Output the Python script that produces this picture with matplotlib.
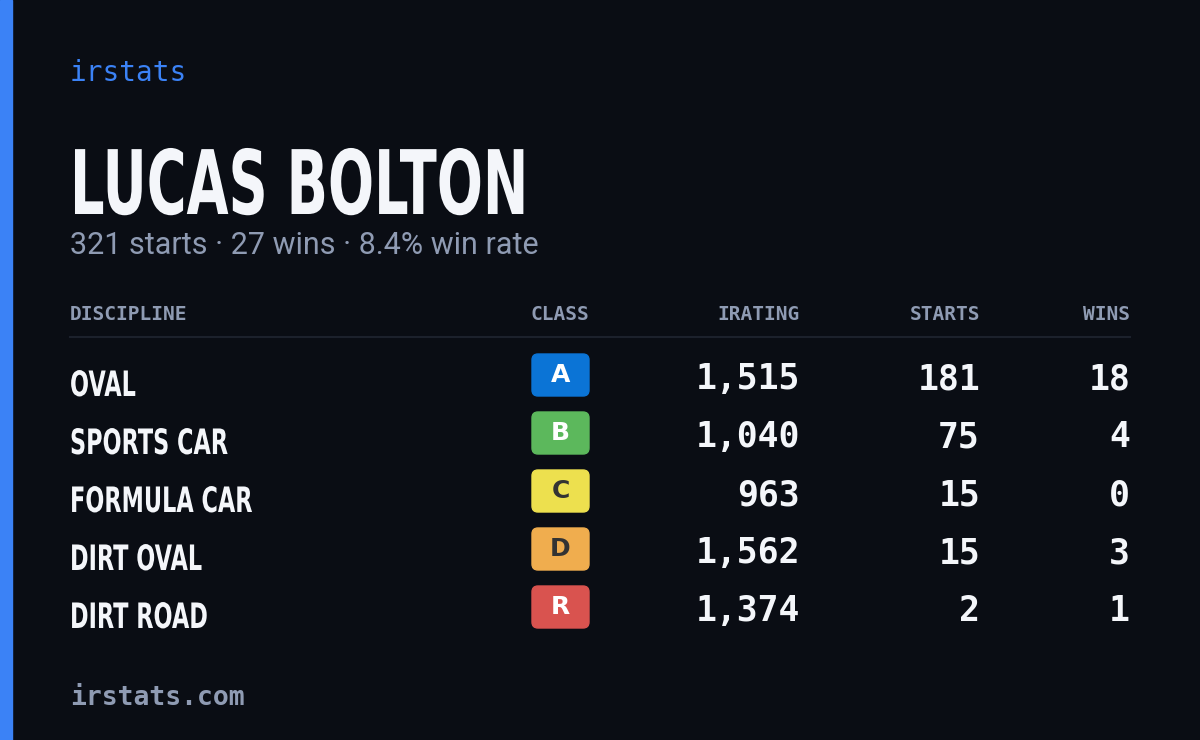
import matplotlib
matplotlib.use("Agg")
import matplotlib.pyplot as plt
from matplotlib.patches import FancyBboxPatch, Rectangle, PathPatch
from matplotlib.textpath import TextPath
from matplotlib.font_manager import FontProperties
from matplotlib.transforms import Affine2D

# data
player = "LUCAS BOLTON"
total_starts = 321
total_wins = 27
win_rate = 8.4
disciplines = ["OVAL", "SPORTS CAR", "FORMULA CAR", "DIRT OVAL", "DIRT ROAD"]
classes = ["A", "B", "C", "D", "R"]
class_colors = ["#0b74d6", "#5cb85c", "#ede04e", "#f0ad4e", "#d9534f"]
class_text = ["white", "white", "#333333", "#333333", "white"]
iratings = [1515, 1040, 963, 1562, 1374]
starts = [181, 75, 15, 15, 2]
wins = [18, 4, 0, 3, 1]

BG = "#0a0d14"
MUTED = "#8f9bb3"
WHITE = "#f4f6fa"
MONO = ["DejaVu Sans Mono"]
BOLD = FontProperties(family="DejaVu Sans", weight="bold")


def narrow_text(ax, x, y, s, size, sx, color):
    # condensed text: squeeze a text path horizontally, baseline at y
    tp = TextPath((0, 0), s, size=size, prop=BOLD)
    tr = Affine2D().scale(sx, -1).translate(x, y)
    ax.add_patch(PathPatch(tr.transform_path(tp), color=color, lw=0))


fig = plt.figure(figsize=(12, 7.4), dpi=100, facecolor=BG)
ax = fig.add_axes([0, 0, 1, 1])
ax.set_xlim(0, 1200)
ax.set_ylim(740, 0)
ax.axis("off")

ax.add_patch(Rectangle((0, 0), 12, 740, color="#3b82f6"))

ax.text(70, 73, "irstats", color="#3b82f6", fontsize=20, family=MONO, va="center")
narrow_text(ax, 70, 214, player, 89, 0.61, WHITE)
ax.text(70, 245, f"{total_starts} starts · {total_wins} wins · {win_rate}% win rate",
        color=MUTED, fontsize=22, family=["Roboto", "DejaVu Sans"], va="center")

# header
hy = 314
ax.text(70, hy, "DISCIPLINE", color=MUTED, fontsize=14, family=MONO, va="center", weight="bold")
ax.text(560, hy, "CLASS", color=MUTED, fontsize=14, family=MONO, va="center", ha="center", weight="bold")
for x, lab in [(800, "IRATING"), (980, "STARTS"), (1130, "WINS")]:
    ax.text(x, hy, lab, color=MUTED, fontsize=14, family=MONO, va="center", ha="right", weight="bold")
ax.plot([70, 1130], [337, 337], color="#1c212c", lw=1.5)

for i, d in enumerate(disciplines):
    y = 378 + i * 58
    narrow_text(ax, 70, y + 18, d, 35, 0.64, WHITE)
    ax.add_patch(FancyBboxPatch((532, y - 24), 57, 42, boxstyle="round,pad=0,rounding_size=6",
                                color=class_colors[i]))
    ax.text(560.5, y - 3, classes[i], color=class_text[i], fontsize=18, weight="bold",
            ha="center", va="center", family=["DejaVu Sans"])
    ax.text(800, y + 1, f"{iratings[i]:,}", color=WHITE, fontsize=25, family=MONO, ha="right", va="center", weight="bold")
    ax.text(980, y + 1, f"{starts[i]}", color=WHITE, fontsize=25, family=MONO, ha="right", va="center", weight="bold")
    ax.text(1130, y + 1, f"{wins[i]}", color=WHITE, fontsize=25, family=MONO, ha="right", va="center", weight="bold")

ax.text(70, 698, "irstats.com", color=MUTED, fontsize=19, family=MONO, va="center", weight="bold")

fig.savefig("out.png", dpi=100, facecolor=BG)
